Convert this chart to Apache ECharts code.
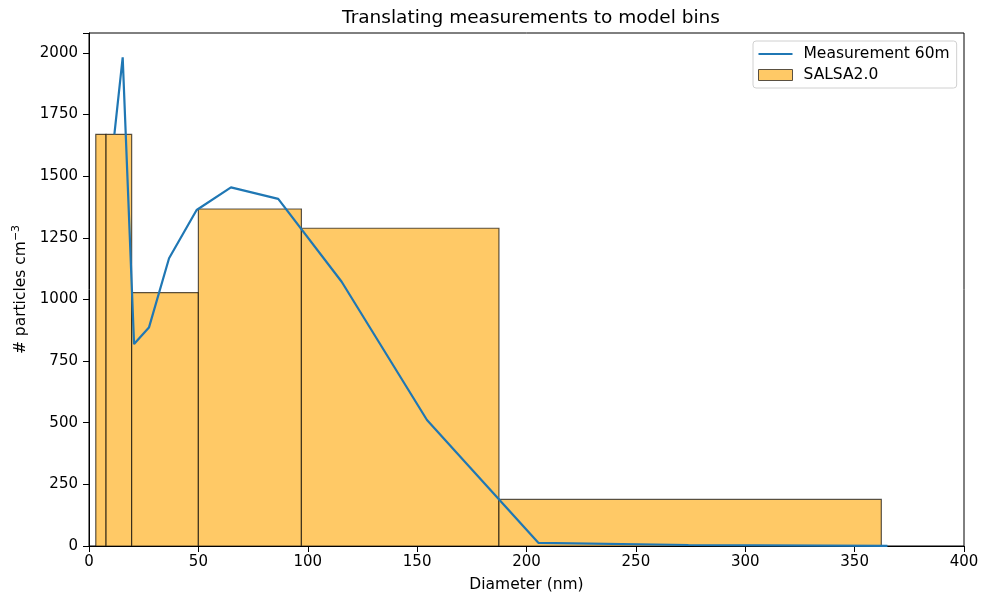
<!DOCTYPE html>
<html>
<head>
<meta charset="utf-8">
<script src="https://cdn.jsdelivr.net/npm/echarts@6/dist/echarts.min.js"></script>
<style>html,body{margin:0;padding:0;background:#fff}#c{width:983px;height:598px}</style>
</head>
<body>
<div id="c"></div>
<script>
// SALSA2.0 bin edges (nm) and concentrations
const binEdges = [3.1, 7.8, 19.5, 50.0, 97.1, 187.4, 362.2];
const binValues = [1670, 1670, 1028, 1367, 1289, 189];
// Measurement 60m
const measDiam = [11.6, 15.4, 20.6, 27.4, 36.6, 49.2, 64.9, 86.5, 115.5, 154.5, 205.4, 274, 365];
const measConc = [1670, 1982, 819, 886, 1167, 1363, 1455, 1408, 1072, 511, 13, 4, 0.5];
const xTicks = [0, 50, 100, 150, 200, 250, 300, 350, 400];
const yTicks = [0, 250, 500, 750, 1000, 1250, 1500, 1750, 2000];

const barData = binValues.map((v, i) => [binEdges[i], binEdges[i + 1], v]);
const lineData = measDiam.map((d, i) => [d, measConc[i]]);

const chart = echarts.init(document.getElementById('c'), null, {renderer: 'canvas'});
const font = 'DejaVu Sans';
chart.setOption({
  animation: false,
  textStyle: {fontFamily: font},
  title: {
    text: 'Translating measurements to model bins',
    left: 526, top: 4, textAlign: 'center',
    textStyle: {fontFamily: font, fontSize: 18.5, fontWeight: 'normal', color: '#000'}
  },
  grid: {left: 89, right: 19, top: 33, bottom: 52, show: true, borderColor: '#000', borderWidth: 1,
    backgroundColor: 'transparent', containLabel: false, outerBoundsMode: 'none'},
  legend: {
    orient: 'vertical', left: 753, top: 41,
    padding: [5, 7, 5, 5], itemGap: 5,
    borderColor: '#d0d0d0', borderWidth: 1, borderRadius: 3,
    itemWidth: 34, itemHeight: 11,
    textStyle: {fontFamily: font, fontSize: 15.5, color: '#000', padding: [0, 0, 0, 6]},
    data: [
      {name: 'Measurement 60m', icon: 'path://M0,4.6H34V6.4H0Z', itemStyle: {color: '#1f77b4'}},
      {name: 'SALSA2.0', icon: 'rect', itemStyle: {color: '#ffc966', borderColor: '#5a5040', borderWidth: 1}}
    ]
  },
  xAxis: {
    type: 'value', min: 0, max: 400, interval: 50,
    name: 'Diameter (nm)', nameLocation: 'middle', nameGap: 31,
    nameTextStyle: {fontFamily: font, fontSize: 15.5, color: '#000'},
    axisLine: {show: true, lineStyle: {color: '#000', width: 1}},
    axisTick: {show: true, inside: false, length: 6, lineStyle: {color: '#000'}},
    axisLabel: {fontFamily: font, fontSize: 15, color: '#000', margin: 9,
      formatter: v => xTicks.includes(v) ? String(v) : ''},
    splitLine: {show: false}
  },
  yAxis: {
    type: 'value', min: 0, max: 2081, interval: 250,
    name: '# particles cm{sup|−3}', nameLocation: 'middle', nameGap: 56, nameRotate: 90,
    nameTextStyle: {fontFamily: font, fontSize: 15.5, color: '#000',
      rich: {sup: {fontFamily: font, fontSize: 11, color: '#000', verticalAlign: 'top', padding: [0, 0, 9, 0]}}},
    axisLine: {show: true, lineStyle: {color: '#000', width: 1}},
    axisTick: {show: true, inside: false, length: 6, lineStyle: {color: '#000'}},
    axisLabel: {fontFamily: font, fontSize: 15, color: '#000', margin: 11,
      formatter: v => yTicks.includes(v) ? String(v) : ''},
    splitLine: {show: false}
  },
  series: [
    {
      name: 'SALSA2.0', type: 'custom', z: 2,
      itemStyle: {color: '#ffc966'},
      renderItem: function (params, api) {
        const p0 = api.coord([api.value(0), api.value(2)]);
        const p1 = api.coord([api.value(1), 0]);
        return {
          type: 'rect',
          shape: {x: p0[0], y: p0[1], width: p1[0] - p0[0], height: p1[1] - p0[1]},
          style: {fill: '#ffc966', stroke: 'rgba(0,0,0,0.65)', lineWidth: 1.2}
        };
      },
      encode: {x: [0, 1], y: 2},
      data: barData
    },
    {
      name: 'Measurement 60m', type: 'line', z: 3,
      symbol: 'none', showSymbol: false,
      lineStyle: {color: '#1f77b4', width: 2.2},
      itemStyle: {color: '#1f77b4'},
      data: lineData
    }
  ]
});
</script>
</body>
</html>
